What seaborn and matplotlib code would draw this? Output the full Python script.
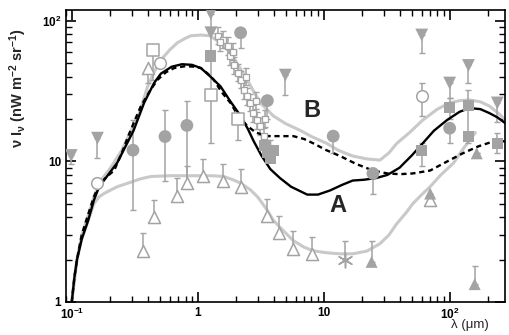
import numpy as np
import pandas as pd
import matplotlib
matplotlib.use("Agg")
import matplotlib.pyplot as plt
import matplotlib.ticker as mticker
import seaborn as sns

sns.set_style("white")
plt.rcParams['font.family'] = ['Liberation Sans', 'DejaVu Sans']
plt.rcParams['mathtext.default'] = 'bf'
plt.rcParams['mathtext.fontset'] = 'custom'
plt.rcParams['mathtext.bf'] = 'Liberation Sans:bold'
plt.rcParams['mathtext.rm'] = 'Liberation Sans'
plt.rcParams['mathtext.it'] = 'Liberation Sans:italic'

# ---------------- model curves ----------------
A_lam = [0.1, 0.105, 0.11, 0.12, 0.135, 0.15, 0.165, 0.19, 0.23, 0.27, 0.31, 0.375, 0.45, 0.51,
         0.62, 0.75, 0.9, 1.06, 1.3, 1.52, 1.8, 2.19, 2.5, 2.77, 3.2, 3.77, 4.5, 5.5, 7.4, 9,
         11.2, 14, 17, 21, 26, 32, 40, 50, 61, 75, 95, 120, 144, 175, 207, 240, 280]
A_val = [1.0, 1.5, 2.0, 2.8, 3.8, 5.3, 6.6, 7.8, 9.8, 13, 16.6, 26, 36, 42,
         47, 49, 48.5, 46, 39, 34, 27, 21, 17, 14, 11, 8.8, 7.6, 6.6, 5.8, 5.8,
         6.2, 6.8, 7.3, 7.4, 7.6, 8.0, 9.0, 11, 13.4, 16.5, 19.6, 22.5, 23.9, 23.5, 22, 20.5, 18.5]

D_lam = [0.1, 0.105, 0.11, 0.12, 0.135, 0.15, 0.165, 0.19, 0.217, 0.25, 0.28, 0.32, 0.354, 0.42,
         0.48, 0.56, 0.65, 0.8, 0.95, 1.06, 1.2, 1.34, 1.55, 1.82, 2.1, 2.48, 2.9, 3.57, 4.5,
         5.74, 7, 8.3, 10.5, 13.5, 18, 24.6, 32, 40, 51, 70, 90, 127, 170, 236, 280]
D_val = [1.0, 1.5, 2.0, 3.0, 4.2, 5.6, 6.8, 7.8, 8.6, 11.5, 15, 20, 24.7, 32,
         38, 43, 46, 47.5, 47, 46, 42, 38, 31, 26, 21, 17.8, 16, 15.1, 15.1,
         15.1, 14.4, 13.4, 12, 10.9, 9.6, 8.6, 8.2, 8.1, 8.2, 8.6, 9.7, 11.4, 12.8, 14.1, 13.8]

B_lam = [0.1, 0.11, 0.12, 0.135, 0.15, 0.17, 0.2, 0.25, 0.3, 0.35, 0.4, 0.45, 0.51, 0.6, 0.69,
         0.8, 0.88, 1.06, 1.25, 1.5, 1.82, 2.1, 2.48, 2.8, 3.15, 3.99, 5, 6.5, 8, 10.6, 13, 17,
         22, 28, 33, 38, 48, 61, 80, 100, 120, 144, 175, 207, 250, 280]
B_val = [1.0, 2.0, 3.0, 4.1, 5.6, 7.3, 8.8, 12, 17, 23, 34, 43, 52.6, 62, 69.6,
         75, 78, 79, 78, 70, 59, 48, 37.9, 31, 26, 21, 18.5, 16.6, 15, 13.4, 12, 10.9,
         10.4, 10.2, 11.5, 13.4, 16, 19.6, 23.5, 26, 27, 27.3, 26.5, 24.7, 21.5, 19.5]

L_lam = [0.1, 0.105, 0.11, 0.12, 0.135, 0.15, 0.165, 0.18, 0.2, 0.23, 0.28, 0.35, 0.425, 0.6,
         0.78, 1.06, 1.3, 1.6, 1.9, 2.19, 2.6, 2.98, 3.5, 3.99, 4.8, 5.74, 7, 8.3, 10.5, 13.5,
         17, 22, 28, 33, 38, 45, 51, 60, 70, 85, 107, 130, 160]
L_val = [1.0, 1.5, 2.0, 2.8, 3.8, 5.0, 5.6, 5.9, 6.2, 6.6, 7.0, 7.5, 7.8, 7.9,
         7.9, 7.9, 7.9, 7.8, 7.4, 7.0, 6.3, 5.6, 4.6, 3.8, 3.2, 2.73, 2.45, 2.31, 2.24, 2.2,
         2.2, 2.3, 2.6, 3.0, 3.6, 4.3, 5.0, 5.8, 6.6, 8.0, 9.7, 12.5, 16]

# ---------------- data points ----------------
fcirc_lam = [0.306, 0.55, 0.82, 2.19, 3.57, 11.9, 24.6, 100]
fcirc_val = [12.0, 15.0, 18.0, 82, 27, 15.1, 8.2, 17.2]
fcirc_lo = [4.5, 7.3, 7.0, 64, 20, 11.4, 5.9, 13.4]
fcirc_hi = [19.6, 23.2, 26.8, 82, 27, 15.1, 8.2, 17.2]

dtri_lam = [0.099, 0.16, 1.27, 1.27, 4.96, 60, 100, 141, 239]
dtri_val = [11.0, 14.6, 112, 82, 41, 79, 36, 48, 26]
dtri_lo = [9.5, 10.5, 85, 60, 29.6, 59, 28, 36, 19]

osq_lam = [0.44, 1.27, 2.1]
osq_val = [62, 29.6, 20]
osq_lo = [38, 13.4, 14.1]
osq_hi = [62, 56, 20]

irts_lam = [1.44, 1.58, 1.73, 1.82, 1.93, 2.07, 2.19, 2.31, 2.48, 2.62, 2.77, 2.98, 3.15,
            3.33, 3.57, 3.77, 1.5, 1.9, 2.4, 2.9, 3.4]
irts_val = [78, 73, 66, 56, 48, 42.5, 37.9, 32, 29, 26, 22, 19.6, 17.8,
            15.1, 13.4, 12.4, 70, 60, 40, 27, 20]

otri_lam = [0.4, 0.37, 0.45, 0.68, 0.82, 1.1, 1.6, 2.19, 3.57, 4.45, 5.74, 8.1, 70]
otri_val = [46, 2.3, 4.0, 5.7, 7.0, 7.8, 7.2, 6.6, 4.1, 3.1, 2.4, 2.2, 5.3]
otri_hi = [46, 3.1, 5.3, 7.6, 9.3, 10.4, 9.6, 8.8, 5.4, 4.1, 3.2, 2.9, 5.3]
otri_lo = [36, 2.3, 4.0, 5.7, 7.0, 7.8, 7.2, 6.6, 4.1, 3.1, 2.4, 2.2, 5.3]

ocirc_lam = [0.5, 0.16, 60]
ocirc_val = [50, 7.0, 29]
ocirc_lo = [50, 7.0, 21]
ocirc_hi = [50, 7.0, 36]

fsq_lam = [1.27, 3.4, 3.6, 3.8, 4.0, 100, 141, 141, 239, 60]
fsq_val = [56, 13.0, 11.5, 10.5, 12.0, 24, 25, 15.1, 13.4, 12]
fsq_lo = [56, 13.0, 11.5, 10.5, 12.0, 20, 13.4, 15.1, 11.4, 9.3]
fsq_hi = [56, 13.0, 11.5, 10.5, 12.0, 28, 32, 15.1, 15.9, 13.4]

ftri_lam = [24, 70, 164, 158]
ftri_val = [1.93, 5.9, 11.4, 1.34]
ftri_hi = [2.73, 5.9, 11.4, 1.8]

ast_lam = [14.8]
ast_val = [2.0]
ast_hi = [2.7]

x_ticks = [0.1, 1, 10, 100]
x_ticklabels = [r'$10^{-1}$', '1', '10', r'$10^{2}$']
y_ticks = [1, 10, 100]
y_ticklabels = ['1', '10', r'$10^{2}$']

GRAY = '#a3a3a3'
LGRAY = '#c9c9c9'

fig = plt.figure(figsize=(5.10, 3.35), dpi=100)
ax = fig.add_axes([66/510, 1-302/335, (505-66)/510, (302-10)/335])
ax.set_xscale('log')
ax.set_yscale('log')

# curves
for lam, val, col, ls, lw in [(B_lam, B_val, LGRAY, '-', 2.2), (L_lam, L_val, LGRAY, '-', 2.2),
                              (D_lam, D_val, 'black', (0, (2.2, 1.6)), 1.7),
                              (A_lam, A_val, 'black', '-', 1.7)]:
    df = pd.DataFrame({'lam': lam, 'val': val})
    sns.lineplot(data=df, x='lam', y='val', ax=ax, color=col, lw=lw, linestyle=ls,
                 sort=False, estimator=None, zorder=3 if col == 'black' else 1)

eb = dict(fmt='none', ecolor=GRAY, elinewidth=1.1, capsize=2.2, capthick=1.0, zorder=2)

# error bars
ax.errorbar(fcirc_lam, fcirc_val, yerr=[np.subtract(fcirc_val, fcirc_lo), np.subtract(fcirc_hi, fcirc_val)], **eb)
ax.errorbar(dtri_lam, dtri_val, yerr=[np.subtract(dtri_val, dtri_lo), np.zeros(len(dtri_val))], **eb)
ax.errorbar(osq_lam, osq_val, yerr=[np.subtract(osq_val, osq_lo), np.subtract(osq_hi, osq_val)], **eb)
irts = np.array(irts_val)
ax.errorbar(irts_lam, irts_val, yerr=[irts * 0.13, irts * 0.15], xerr=[np.array(irts_lam) * 0.05, np.array(irts_lam) * 0.05], **eb)
ax.errorbar(otri_lam, otri_val, yerr=[np.subtract(otri_val, otri_lo), np.subtract(otri_hi, otri_val)], **eb)
ax.errorbar(ocirc_lam, ocirc_val, yerr=[np.subtract(ocirc_val, ocirc_lo), np.subtract(ocirc_hi, ocirc_val)], **eb)
ax.errorbar(fsq_lam, fsq_val, yerr=[np.subtract(fsq_val, fsq_lo), np.subtract(fsq_hi, fsq_val)], **eb)
ax.errorbar(ftri_lam, ftri_val, yerr=[np.zeros(len(ftri_val)), np.subtract(ftri_hi, ftri_val)], **eb)
ax.errorbar(ast_lam, ast_val, yerr=[[0], np.subtract(ast_hi, ast_val)], **eb)

# markers
sns.scatterplot(x=fcirc_lam, y=fcirc_val, ax=ax, marker='o', s=85, color=GRAY, edgecolor='none', zorder=4)
sns.scatterplot(x=dtri_lam, y=dtri_val, ax=ax, marker='v', s=85, color=GRAY, edgecolor='none', zorder=4)
sns.scatterplot(x=osq_lam, y=osq_val, ax=ax, marker='s', s=75, facecolor='white', edgecolor=GRAY, linewidth=1.1, zorder=4)
sns.scatterplot(x=irts_lam, y=irts_val, ax=ax, marker='s', s=22, facecolor='white', edgecolor=GRAY, linewidth=0.9, zorder=4)
sns.scatterplot(x=otri_lam, y=otri_val, ax=ax, marker='^', s=75, facecolor='white', edgecolor=GRAY, linewidth=1.1, zorder=4)
sns.scatterplot(x=ocirc_lam, y=ocirc_val, ax=ax, marker='o', s=70, facecolor='white', edgecolor=GRAY, linewidth=1.1, zorder=4)
sns.scatterplot(x=fsq_lam, y=fsq_val, ax=ax, marker='s', s=65, color=GRAY, edgecolor='none', zorder=4)
sns.scatterplot(x=ftri_lam, y=ftri_val, ax=ax, marker='^', s=75, color=GRAY, edgecolor='none', zorder=4)
sns.scatterplot(x=ast_lam, y=ast_val, ax=ax, marker=(6, 2, 0), s=110, color=GRAY, linewidth=1.1, zorder=4)

ax.set_xlim(0.09, 275)
ax.set_ylim(1, 119)

# ticks
ax.set_xticks(x_ticks)
ax.set_xticklabels(x_ticklabels)
ax.set_yticks(y_ticks)
ax.set_yticklabels(y_ticklabels)
ax.xaxis.set_minor_locator(mticker.LogLocator(base=10, subs=np.arange(2, 10), numticks=30))
ax.yaxis.set_minor_locator(mticker.LogLocator(base=10, subs=np.arange(2, 10), numticks=30))
ax.xaxis.set_minor_formatter(mticker.NullFormatter())
ax.yaxis.set_minor_formatter(mticker.NullFormatter())
ax.tick_params(which='both', direction='in', top=True, right=True, bottom=True, left=True,
               colors='black', labelsize=8.5, width=1.0)
ax.tick_params(which='major', length=7, width=1.2)
ax.tick_params(which='minor', length=4, width=1.0)
for lab in ax.get_xticklabels() + ax.get_yticklabels():
    lab.set_fontweight('bold')
for sp in ax.spines.values():
    sp.set_linewidth(1.2)
    sp.set_color('black')

ax.set_xlabel('')
ax.set_ylabel(r'$\nu$ I$_\nu$ (nW m$^{-2}$ sr$^{-1}$)', fontsize=10.5, fontweight='bold')
ax.yaxis.set_label_coords(-0.085, 0.733)
fig.text(470/510, 1-325/335, r'λ (μm)', fontsize=9.5, ha='center', va='center')

fig.text(312/510, 1-110/335, 'B', fontsize=17, fontweight='bold', ha='center', va='center')
fig.text(338/510, 1-205/335, 'A', fontsize=17, fontweight='bold', ha='center', va='center')

fig.savefig('out.png', dpi=100)
